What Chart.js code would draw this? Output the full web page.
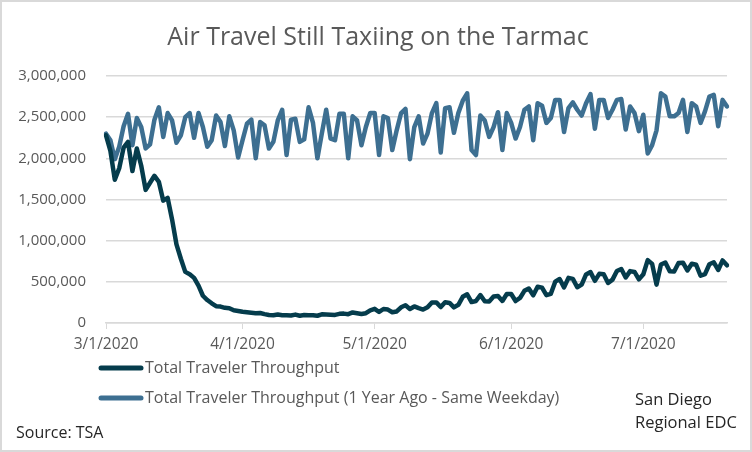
<!DOCTYPE html>
<html>
<head>
<meta charset="utf-8">
<script src="https://cdn.jsdelivr.net/npm/chart.js@4/dist/chart.umd.min.js"></script>
<style>
  html, body { margin: 0; padding: 0; background: #fff; }
  canvas { display: block; }
</style>
</head>
<body>
<canvas id="chart" width="752" height="452"></canvas>
<script>
// daily TSA checkpoint numbers, 3/1/2020 onwards
var startDate = new Date(2020, 2, 1);

var throughput = [
  2280000, 2090000, 1740000, 1880000, 2130000, 2200000, 1845000, 2120000, 1910000, 1617000,
  1703000, 1788000, 1714000, 1486000, 1519000, 1258000, 954000, 780000, 621000, 593000,
  548000, 455000, 331000, 279000, 239000, 204000, 200000, 184000, 180000, 154000, 146000,
  // april
  136000, 130000, 124000, 118000, 122000, 108000, 97000, 95000, 104000, 95000,
  94000, 91000, 102000, 88000, 96000, 95000, 94000, 88000, 105000, 102000,
  100000, 98000, 111000, 114000, 107000, 128000, 119000, 110000, 119000, 154000,
  // may
  172000, 134000, 170000, 163000, 131000, 140000, 191000, 215000, 170000, 201000,
  180000, 163000, 190000, 250000, 250000, 194000, 253000, 244000, 190000, 221000,
  318000, 349000, 254000, 267000, 340000, 264000, 261000, 321000, 327000, 268000, 353000,
  // june
  352000, 267000, 304000, 391000, 419000, 336000, 441000, 430000, 338000, 354000,
  502000, 534000, 432000, 548000, 536000, 435000, 466000, 590000, 618000, 512000,
  597000, 591000, 486000, 527000, 631000, 655000, 553000, 630000, 620000, 530000,
  // july
  592000, 764000, 718000, 466000, 711000, 735000, 628000, 626000, 728000, 733000,
  638000, 720000, 707000, 574000, 594000, 713000, 737000, 644000, 760000, 700000
];

var yearAgo = [
  2300000, 2220000, 1990000, 2140000, 2390000, 2540000, 2160000, 2490000, 2380000, 2120000,
  2170000, 2470000, 2620000, 2260000, 2550000, 2460000, 2190000, 2280000, 2500000, 2550000,
  2250000, 2550000, 2380000, 2140000, 2220000, 2520000, 2440000, 2150000, 2510000, 2340000, 2010000,
  2220000, 2420000, 2470000, 2000000, 2440000, 2400000, 2120000, 2200000, 2460000, 2590000,
  2040000, 2470000, 2480000, 2200000, 2230000, 2620000, 2430000, 2000000, 2300000, 2590000,
  2240000, 2220000, 2540000, 2540000, 2000000, 2510000, 2460000, 2160000, 2380000, 2550000,
  2550000, 2040000, 2510000, 2490000, 2100000, 2340000, 2550000, 2600000, 1990000, 2380000,
  2510000, 2180000, 2300000, 2550000, 2670000, 2070000, 2610000, 2620000, 2310000, 2550000,
  2700000, 2790000, 2100000, 2040000, 2520000, 2460000, 2260000, 2380000, 2560000, 2100000, 2550000,
  2430000, 2240000, 2380000, 2590000, 2630000, 2220000, 2670000, 2640000, 2430000, 2490000,
  2710000, 2710000, 2320000, 2610000, 2680000, 2590000, 2520000, 2670000, 2780000, 2360000,
  2710000, 2710000, 2490000, 2590000, 2710000, 2720000, 2350000, 2630000, 2550000, 2330000,
  2530000, 2060000, 2160000, 2340000, 2790000, 2750000, 2510000, 2510000, 2550000, 2710000,
  2320000, 2670000, 2630000, 2430000, 2570000, 2750000, 2770000, 2390000, 2710000, 2630000
];

var monthTicks = ['3/1/2020', '4/1/2020', '5/1/2020', '6/1/2020', '7/1/2020'];
var seriesNames = ['Total Traveler Throughput', 'Total Traveler Throughput (1 Year Ago - Same Weekday)'];

var labels = [];
for (var i = 0; i < throughput.length; i++) {
  var d = new Date(startDate.getFullYear(), startDate.getMonth(), startDate.getDate() + i);
  labels.push((d.getMonth() + 1) + '/' + d.getDate() + '/' + d.getFullYear());
}

var grey = '#595959';
var gridGrey = '#d9d9d9';
Chart.defaults.font.family = 'Open Sans';
Chart.defaults.color = grey;

// legend, title and notes drawn by hand so they sit where the original has them
var extras = {
  id: 'extras',
  afterDraw: function(chart) {
    var ctx = chart.ctx;
    ctx.save();

    ctx.strokeStyle = gridGrey;
    ctx.lineWidth = 2;
    ctx.strokeRect(1, 1, chart.width - 2, chart.height - 2);

    ctx.fillStyle = grey;
    ctx.textBaseline = 'middle';
    ctx.textAlign = 'center';
    ctx.font = '25px "Open Sans"';
    ctx.fillText('Air Travel Still Taxiing on the Tarmac', 378, 38);

    ctx.textAlign = 'left';
    ctx.font = '16px "Open Sans"';
    var rows = [368, 398];
    chart.data.datasets.forEach(function(ds, k) {
      ctx.strokeStyle = ds.borderColor;
      ctx.lineWidth = 5;
      ctx.lineCap = 'round';
      ctx.beginPath();
      ctx.moveTo(101, rows[k]);
      ctx.lineTo(141, rows[k]);
      ctx.stroke();
      ctx.fillText(ds.label, 145, rows[k]);
    });

    ctx.fillStyle = '#262626';
    ctx.fillText('Source: TSA', 16, 433);
    ctx.font = '16.5px "Open Sans"';
    ctx.fillText('San Diego', 635, 400);
    ctx.fillText('Regional EDC', 635, 423);
    ctx.restore();
  }
};

new Chart(document.getElementById('chart'), {
  type: 'line',
  data: {
    labels: labels,
    datasets: [{
      label: seriesNames[0],
      data: throughput,
      borderColor: '#053c4c',
      borderWidth: 4.5,
      pointRadius: 0,
      tension: 0,
      borderJoinStyle: 'round',
      borderCapStyle: 'round'
    }, {
      label: seriesNames[1],
      data: yearAgo,
      borderColor: '#3d6f91',
      borderWidth: 4.5,
      pointRadius: 0,
      tension: 0,
      borderJoinStyle: 'round',
      borderCapStyle: 'round'
    }]
  },
  options: {
    responsive: false,
    animation: false,
    layout: { padding: { top: 76, right: 25, left: 0, bottom: 0 } },
    scales: {
      x: {
        grid: { drawOnChartArea: false, drawTicks: true, tickLength: 6, color: gridGrey },
        border: { color: gridGrey, width: 1.5 },
        ticks: { autoSkip: false, maxRotation: 0, padding: 6, font: { size: 15.5 } },
        afterBuildTicks: function(scale) {
          scale.ticks = scale.ticks.filter(function(t) {
            return monthTicks.indexOf(labels[t.value]) >= 0;
          });
        },
        afterFit: function(scale) { scale.height = 452 - 323; }
      },
      y: {
        min: 0,
        max: 3000000,
        grid: { drawTicks: false, color: gridGrey, lineWidth: 1.5 },
        border: { display: false },
        ticks: {
          stepSize: 500000,
          padding: 20,
          font: { size: 15 },
          callback: function(v) { return v.toLocaleString('en-US'); }
        },
        afterFit: function(scale) { scale.width = 106; }
      }
    },
    plugins: {
      legend: { display: false },
      title: { display: false },
      tooltip: { enabled: false }
    }
  },
  plugins: [extras]
});
</script>
</body>
</html>
